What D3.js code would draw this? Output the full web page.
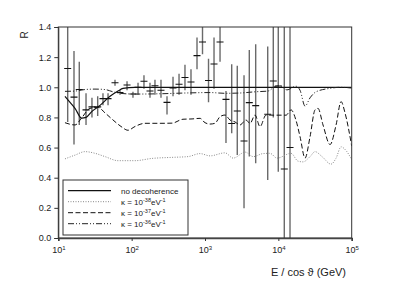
<!DOCTYPE html>
<html>
<head>
<meta charset="utf-8">
<script src="https://cdn.jsdelivr.net/npm/d3@7"></script>
<style>
  body { margin: 0; background: #fff; }
  text { font-family: "Liberation Sans", Arial, sans-serif; fill: #222; }
</style>
</head>
<body>
<div id="chart"></div>
<script>
// measured points: log10(E/cos theta), ratio R and error bar ends
var ptLogE = [1.128, 1.214, 1.286, 1.378, 1.459, 1.537, 1.609, 1.678, 1.773, 1.841,
    1.937, 2.018, 2.087, 2.168, 2.25, 2.318, 2.4, 2.482, 2.564, 2.646,
    2.727, 2.809, 2.891, 2.966, 3.048, 3.123, 3.205, 3.286, 3.364, 3.44,
    3.532, 3.604, 3.691, 3.855, 3.931, 3.999, 4.081, 4.159];
var ptR = [1.125, 0.935, 0.985, 0.85, 0.87, 0.87, 0.925, 0.925, 1.03, 0.965,
    1.015, 0.955, 1.0, 1.04, 0.975, 1.01, 0.98, 0.9, 0.995, 1.02,
    1.065, 1.035, 1.21, 1.30, 1.045, 1.155, 1.30, 0.92, 0.76, 0.843,
    0.644, 0.898, 0.878, 0.821, 1.042, 1.009, 0.458, 0.60];
var ptLo = [0.77, 0.62, 0.75, 0.75, 0.80, 0.81, 0.88, 0.88, 1.01, 0.95,
    0.98, 0.93, 0.95, 0.99, 0.93, 0.95, 0.93, 0.82, 0.94, 0.95,
    0.98, 0.95, 1.12, 1.22, 0.90, 0.99, 1.17, 0.63, 0.695, 0.55,
    0.197, 0.54, 0.496, 0.385, 0.80, 0.44, 0.0, 0.0];
var ptHi = [1.5, 1.24, 1.17, 0.96, 0.93, 0.94, 0.96, 0.96, 1.05, 0.98,
    1.04, 0.97, 1.03, 1.08, 1.03, 1.05, 1.05, 0.94, 1.07, 1.09,
    1.15, 1.12, 1.33, 1.5, 1.19, 1.33, 1.5, 0.975, 1.153, 1.143,
    1.08, 1.247, 1.285, 1.27, 1.5, 1.5, 1.5, 1.5];

// model curves
var noDecLogE = [1.091, 1.16, 1.228, 1.319, 1.378, 1.459, 1.569, 1.705, 1.814, 1.882, 2.046, 5.0];
var noDecR = [0.94, 0.90, 0.86, 0.795, 0.80, 0.84, 0.88, 0.94, 0.975, 0.993, 1.0, 1.0];

var k38LogE = [1.091, 1.228, 1.364, 1.5, 1.637, 1.814, 2.046, 2.277, 2.55, 2.768,
    2.932, 3.068, 3.273, 3.384, 3.548, 3.657, 3.791, 3.886, 3.982, 4.173,
    4.268, 4.336, 4.432, 4.5, 4.596, 4.718, 4.787, 4.855, 4.923, 5.0];
var k38R = [0.525, 0.55, 0.573, 0.562, 0.54, 0.513, 0.513, 0.528, 0.535, 0.54,
    0.56, 0.545, 0.565, 0.53, 0.57, 0.54, 0.56, 0.562, 0.53, 0.562,
    0.51, 0.505, 0.54, 0.573, 0.54, 0.49, 0.53, 0.605, 0.58, 0.52];

var k37LogE = [1.091, 1.228, 1.323, 1.432, 1.541, 1.637, 1.746, 1.855, 1.95, 2.046,
    2.182, 2.387, 2.55, 2.7, 2.823, 2.932, 3.0, 3.068, 3.136, 3.205,
    3.273, 3.341, 3.409, 3.477, 3.559, 3.614, 3.682, 3.75, 3.832, 3.927,
    4.023, 4.105, 4.173, 4.241, 4.296, 4.364, 4.432, 4.5, 4.541, 4.609,
    4.705, 4.787, 4.855, 4.909, 5.0];
var k37R = [0.765, 0.75, 0.80, 0.86, 0.867, 0.83, 0.783, 0.74, 0.715, 0.74,
    0.761, 0.761, 0.762, 0.788, 0.79, 0.794, 0.765, 0.756, 0.761, 0.805,
    0.816, 0.783, 0.77, 0.75, 0.783, 0.76, 0.816, 0.739, 0.816, 0.815,
    0.815, 0.815, 0.85, 0.78, 0.672, 0.53, 0.672, 0.85, 0.86, 0.75,
    0.62, 0.75, 0.905, 0.83, 0.61];

var k36LogE = [1.091, 1.228, 1.364, 1.5, 1.637, 1.746, 1.841, 2.046, 2.387, 2.727,
    3.068, 3.273, 3.477, 3.682, 3.859, 3.955, 4.023, 4.118, 4.241, 4.296,
    4.364, 4.432, 4.514, 4.705, 4.841, 5.0];
var k36R = [0.973, 0.975, 0.985, 0.988, 0.985, 0.97, 0.96, 0.955, 0.957, 0.962,
    0.965, 0.96, 0.962, 0.97, 0.975, 1.005, 1.01, 0.983, 1.007, 0.98,
    0.875, 0.93, 0.97, 0.993, 1.0, 0.995];

var yTicks = [0, 0.2, 0.4, 0.6, 0.8, 1.0, 1.2, 1.4];
var xTicks = [10, 100, 1000, 10000, 100000];
var xTickExp = ['1', '2', '3', '4', '5'];

var W = 393, H = 295;
var margin = {top: 27, right: 41.3, bottom: 57, left: 58.3};
var width = W - margin.left - margin.right;
var height = H - margin.top - margin.bottom;

var svg = d3.select('#chart').append('svg')
    .attr('width', W)
    .attr('height', H);

var g = svg.append('g')
    .attr('transform', 'translate(' + margin.left + ',' + margin.top + ')');

var x = d3.scaleLog().domain([10, 1e5]).range([0, width]);
var y = d3.scaleLinear().domain([0, 1.4]).range([height, 0]);

g.append('clipPath').attr('id', 'plotclip')
    .append('rect').attr('width', width).attr('height', height);

var plot = g.append('g').attr('clip-path', 'url(#plotclip)');

// error bars
var pts = ptLogE.map(function (l, i) {
    return {e: Math.pow(10, l), r: ptR[i], lo: ptLo[i], hi: ptHi[i]};
});

plot.selectAll('.ebar').data(pts).enter().append('line')
    .attr('class', 'ebar')
    .attr('x1', function (d) { return x(d.e); })
    .attr('x2', function (d) { return x(d.e); })
    .attr('y1', function (d) { return y(d.lo); })
    .attr('y2', function (d) { return y(d.hi); })
    .attr('stroke', '#6a6a6a')
    .attr('stroke-width', 1.4);

plot.selectAll('.cmark').data(pts).enter().append('line')
    .attr('class', 'cmark')
    .attr('x1', function (d) { return x(d.e) - 3.5; })
    .attr('x2', function (d) { return x(d.e) + 3.5; })
    .attr('y1', function (d) { return y(d.r); })
    .attr('y2', function (d) { return y(d.r); })
    .attr('stroke', '#111')
    .attr('stroke-width', 1.1);

var line = d3.line()
    .x(function (d) { return x(Math.pow(10, d[0])); })
    .y(function (d) { return y(d[1]); })
    .curve(d3.curveMonotoneX);

var curves = [
    {le: noDecLogE, r: noDecR, color: '#111', dash: null, w: 1.2},
    {le: k38LogE, r: k38R, color: '#888', dash: '1,1.5', w: 1},
    {le: k37LogE, r: k37R, color: '#111', dash: '5,2.5', w: 1},
    {le: k36LogE, r: k36R, color: '#222', dash: '6,2,1,2,1,2', w: 1}
];

curves.forEach(function (c) {
    plot.append('path')
        .datum(d3.zip(c.le, c.r))
        .attr('d', line)
        .attr('fill', 'none')
        .attr('stroke', c.color)
        .attr('stroke-width', c.w)
        .attr('stroke-dasharray', c.dash);
});

// frame
g.append('rect')
    .attr('width', width)
    .attr('height', height)
    .attr('fill', 'none')
    .attr('stroke', '#333')
    .attr('stroke-width', 1);

// y axis
var yAxis = g.append('g')
    .call(d3.axisLeft(y).tickValues(yTicks).tickSize(4).tickFormat(d3.format('.1f')));
yAxis.select('.domain').attr('stroke', '#333');
yAxis.selectAll('.tick line').attr('stroke', '#333');
yAxis.selectAll('text').style('font-size', '9px').attr('fill', '#333');

// x axis
var xAxis = g.append('g')
    .attr('transform', 'translate(0,' + height + ')')
    .call(d3.axisBottom(x).tickValues(xTicks).tickSize(3).tickFormat(''));
xAxis.select('.domain').attr('stroke', '#444').attr('stroke-width', 1.5);
xAxis.selectAll('.tick line').attr('stroke', '#333');

var xl = xAxis.selectAll('.tick').append('text')
    .attr('y', 15)
    .attr('text-anchor', 'middle')
    .style('font-size', '9px')
    .attr('fill', '#333');
xl.append('tspan').text('10');
xl.append('tspan')
    .attr('dy', -3.5)
    .style('font-size', '6px')
    .text(function (d, i) { return xTickExp[i]; });

// axis titles
svg.append('text')
    .attr('transform', 'translate(28,35) rotate(-90)')
    .attr('text-anchor', 'middle')
    .style('font-size', '10px')
    .attr('fill', '#333')
    .text('R');

svg.append('text')
    .attr('x', 346)
    .attr('y', 276)
    .attr('text-anchor', 'end')
    .style('font-size', '11px')
    .attr('fill', '#333')
    .text('E / cos \u03d1 (GeV)');

// legend
var leg = svg.append('g').attr('transform', 'translate(63,180)');
leg.append('rect')
    .attr('width', 125)
    .attr('height', 55)
    .attr('fill', '#fff')
    .attr('stroke', '#333')
    .attr('stroke-width', 1);

var legLabels = [
    {t: 'no decoherence'},
    {t: '-38'},
    {t: '-37'},
    {t: '-36'}
];

legLabels.forEach(function (l, i) {
    var yy = 10.7 + i * 11;
    var c = curves[i];
    leg.append('line')
        .attr('x1', 5).attr('x2', 48)
        .attr('y1', yy).attr('y2', yy)
        .attr('stroke', c.color)
        .attr('stroke-width', c.w)
        .attr('stroke-dasharray', c.dash);
    var t = leg.append('text')
        .attr('x', 58)
        .attr('y', yy + 3)
        .style('font-size', '8px')
        .attr('fill', '#222');
    if (i == 0) {
        t.text(l.t);
    } else {
        t.append('tspan').text('\u03ba = 10');
        t.append('tspan').attr('dy', -3).style('font-size', '5.5px').text(l.t);
        t.append('tspan').attr('dy', 3).text('eV');
        t.append('tspan').attr('dy', -3).style('font-size', '5.5px').text('-1');
    }
});
</script>
</body>
</html>
